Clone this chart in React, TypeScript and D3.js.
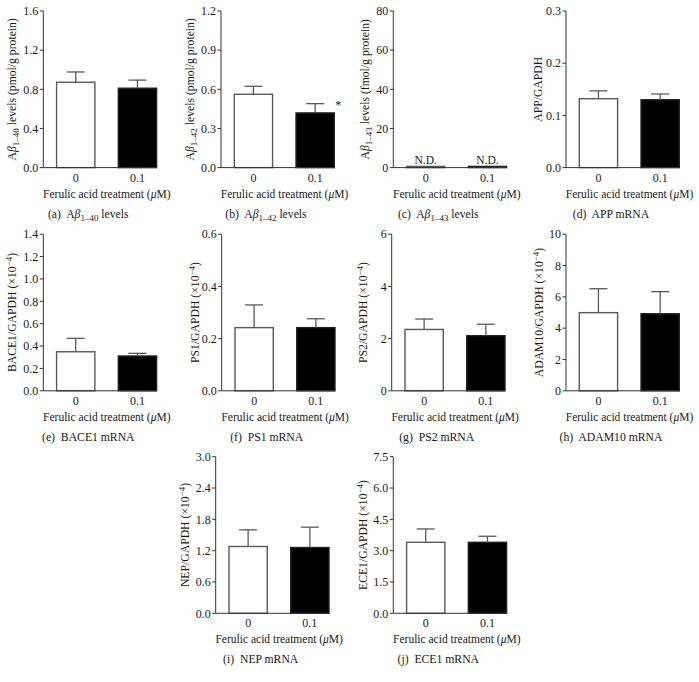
import React from "react";
import * as d3 from "d3";

// ---------- data ----------
const treatmentDoses = ["0", "0.1"];

const abeta40Mean = [0.872, 0.811];
const abeta40Sem = [0.105, 0.083];
const abeta40Ticks = [0, 0.4, 0.8, 1.2, 1.6];

const abeta42Mean = [0.562, 0.419];
const abeta42Sem = [0.061, 0.071];
const abeta42Ticks = [0, 0.3, 0.6, 0.9, 1.2];

const abeta43Mean = [0.6, 0.6]; // not detected
const abeta43Ticks = [0, 20, 40, 60, 80];

const appMean = [0.132, 0.13];
const appSem = [0.015, 0.011];
const appTicks = [0, 0.1, 0.2, 0.3];

const bace1Mean = [0.349, 0.311];
const bace1Sem = [0.12, 0.024];
const bace1Ticks = [0, 0.2, 0.4, 0.6, 0.8, 1.0, 1.2, 1.4];

const ps1Mean = [0.242, 0.242];
const ps1Sem = [0.087, 0.034];
const ps1Ticks = [0, 0.2, 0.4, 0.6];

const ps2Mean = [2.35, 2.11];
const ps2Sem = [0.4, 0.44];
const ps2Ticks = [0, 2, 4, 6];

const adam10Mean = [4.99, 4.92];
const adam10Sem = [1.53, 1.41];
const adam10Ticks = [0, 2, 4, 6, 8, 10];

const nepMean = [1.28, 1.26];
const nepSem = [0.32, 0.39];
const nepTicks = [0, 0.6, 1.2, 1.8, 2.4, 3.0];

const ece1Mean = [3.4, 3.4];
const ece1Sem = [0.64, 0.29];
const ece1Ticks = [0, 1.5, 3.0, 4.5, 6.0, 7.5];

const xAxisTitle = "Ferulic acid treatment (";

type Seg = { t: string; sub?: boolean; sup?: boolean; it?: boolean };

const panels: {
  mean: number[];
  sem: number[] | null;
  ticks: number[];
  fmt: string;
  yTitle: Seg[];
  caption: Seg[];
  nd?: boolean;
  star?: number;
}[] = [
  {
    mean: abeta40Mean, sem: abeta40Sem, ticks: abeta40Ticks, fmt: ".1f",
    yTitle: [{ t: "A" }, { t: "β", it: true }, { t: "1–40", sub: true }, { t: " levels (pmol/g protein)" }],
    caption: [{ t: "(a)  A" }, { t: "β", it: true }, { t: "1–40", sub: true }, { t: " levels" }],
  },
  {
    mean: abeta42Mean, sem: abeta42Sem, ticks: abeta42Ticks, fmt: ".1f",
    yTitle: [{ t: "A" }, { t: "β", it: true }, { t: "1–42", sub: true }, { t: " levels (pmol/g protein)" }],
    caption: [{ t: "(b)  A" }, { t: "β", it: true }, { t: "1–42", sub: true }, { t: " levels" }],
    star: 1,
  },
  {
    mean: abeta43Mean, sem: null, ticks: abeta43Ticks, fmt: "d",
    yTitle: [{ t: "A" }, { t: "β", it: true }, { t: "1–43", sub: true }, { t: " levels (fmol/g protein)" }],
    caption: [{ t: "(c)  A" }, { t: "β", it: true }, { t: "1–43", sub: true }, { t: " levels" }],
    nd: true,
  },
  {
    mean: appMean, sem: appSem, ticks: appTicks, fmt: ".1f",
    yTitle: [{ t: "APP/GAPDH" }],
    caption: [{ t: "(d)  APP mRNA" }],
  },
  {
    mean: bace1Mean, sem: bace1Sem, ticks: bace1Ticks, fmt: ".1f",
    yTitle: [{ t: "BACE1/GAPDH (×10" }, { t: "−4", sup: true }, { t: ")" }],
    caption: [{ t: "(e)  BACE1 mRNA" }],
  },
  {
    mean: ps1Mean, sem: ps1Sem, ticks: ps1Ticks, fmt: ".1f",
    yTitle: [{ t: "PS1/GAPDH (×10" }, { t: "−4", sup: true }, { t: ")" }],
    caption: [{ t: "(f)  PS1 mRNA" }],
  },
  {
    mean: ps2Mean, sem: ps2Sem, ticks: ps2Ticks, fmt: "d",
    yTitle: [{ t: "PS2/GAPDH (×10" }, { t: "−4", sup: true }, { t: ")" }],
    caption: [{ t: "(g)  PS2 mRNA" }],
  },
  {
    mean: adam10Mean, sem: adam10Sem, ticks: adam10Ticks, fmt: "d",
    yTitle: [{ t: "ADAM10/GAPDH (×10" }, { t: "−4", sup: true }, { t: ")" }],
    caption: [{ t: "(h)  ADAM10 mRNA" }],
  },
  {
    mean: nepMean, sem: nepSem, ticks: nepTicks, fmt: ".1f",
    yTitle: [{ t: "NEP/GAPDH (×10" }, { t: "−4", sup: true }, { t: ")" }],
    caption: [{ t: "(i)  NEP mRNA" }],
  },
  {
    mean: ece1Mean, sem: ece1Sem, ticks: ece1Ticks, fmt: ".1f",
    yTitle: [{ t: "ECE1/GAPDH (×10" }, { t: "−4", sup: true }, { t: ")" }],
    caption: [{ t: "(j)  ECE1 mRNA" }],
  },
];

// ---------- layout ----------
const W = 699;
const H = 682;
const PLOT_H = 156.6;
const layout = [
  { x: 43.3, top: 11, titleOff: 27.5 },
  { x: 221, top: 11, titleOff: 27 },
  { x: 393.3, top: 11, titleOff: 24.3 },
  { x: 566, top: 11, titleOff: 23.7 },
  { x: 43.3, top: 234.2, titleOff: 27.5 },
  { x: 221.7, top: 234.2, titleOff: 22.7 },
  { x: 391.7, top: 234.2, titleOff: 24.4 },
  { x: 566, top: 234.2, titleOff: 22.7 },
  { x: 215.7, top: 456.7, titleOff: 26.7 },
  { x: 393.3, top: 456.7, titleOff: 26.6 },
];

const FONT = "'Liberation Serif', 'DejaVu Serif', serif";
const AXIS = "#333";
const EDGE = "#5a5a5a";
const INK = "#1a1a1a";

function Segs({ segs, sub = 8.5 }: { segs: Seg[]; sub?: number }) {
  const out: React.ReactNode[] = [];
  let shift = 0;
  segs.forEach((s, i) => {
    let target = 0;
    if (s.sub) target = 3;
    if (s.sup) target = -4;
    const dy = target - shift;
    shift = target;
    out.push(
      <tspan
        key={i}
        dy={dy !== 0 ? dy : undefined}
        fontSize={s.sub || s.sup ? sub : undefined}
        fontStyle={s.it ? "italic" : undefined}
      >
        {s.t}
      </tspan>
    );
  });
  return <>{out}</>;
}

function Panel({ p, l }: { p: (typeof panels)[number]; l: (typeof layout)[number] }) {
  const y = d3
    .scaleLinear()
    .domain([0, p.ticks[p.ticks.length - 1]])
    .range([l.top + PLOT_H, l.top]);
  const x = d3
    .scaleBand()
    .domain(treatmentDoses)
    .range([l.x + 13.3, l.x + 113.3])
    .paddingInner(0.38)
    .paddingOuter(0);
  const bw = x.bandwidth();
  const base = y(0);
  const fmt = d3.format(p.fmt);
  const xEnd = (x(treatmentDoses[1]) as number) + bw;
  const midY = l.top + PLOT_H / 2;
  return (
    <g>
      {/* bars */}
      {treatmentDoses.map((d, i) => {
        const x0 = x(d) as number;
        const top = y(p.mean[i]);
        return (
          <rect
            key={d}
            x={x0}
            y={top}
            width={bw}
            height={Math.max(base - top, 0.8)}
            fill={i === 0 ? "#fff" : "#000"}
            stroke={i === 0 ? EDGE : "#222"}
            strokeWidth={1.4}
          />
        );
      })}
      {/* error bars */}
      {p.sem &&
        treatmentDoses.map((d, i) => {
          const cx = (x(d) as number) + bw / 2;
          const y0 = y(p.mean[i]);
          const y1 = y(p.mean[i] + (p.sem as number[])[i]);
          return (
            <g key={"e" + d} stroke={EDGE} strokeWidth={1.3} fill="none">
              <line x1={cx} x2={cx} y1={y0} y2={y1} />
              <line x1={cx - 9} x2={cx + 9} y1={y1} y2={y1} />
            </g>
          );
        })}
      {p.star !== undefined && p.sem && (
        <text
          x={(x(treatmentDoses[p.star]) as number) + bw / 2 + 23}
          y={y(p.mean[p.star] + p.sem[p.star]) + 5}
          fontSize={12}
          textAnchor="middle"
          fill={INK}
        >
          *
        </text>
      )}
      {p.nd &&
        treatmentDoses.map((d) => (
          <text
            key={"nd" + d}
            x={(x(d) as number) + bw / 2}
            y={base - 4}
            fontSize={11.5}
            textAnchor="middle"
            fill={INK}
          >
            N.D.
          </text>
        ))}
      {/* axes */}
      <line x1={l.x} x2={l.x} y1={l.top} y2={base} stroke={AXIS} strokeWidth={1} />
      <line x1={l.x} x2={xEnd} y1={base} y2={base} stroke={AXIS} strokeWidth={1} />
      {p.ticks.map((t) => (
        <g key={"t" + t}>
          <line x1={l.x - 3.5} x2={l.x} y1={y(t)} y2={y(t)} stroke={AXIS} strokeWidth={1} />
          <text x={l.x - 5} y={y(t) + 4.2} fontSize={12} textAnchor="end" fill={INK}>
            {fmt(t)}
          </text>
        </g>
      ))}
      {treatmentDoses.map((d) => (
        <text
          key={"x" + d}
          x={(x(d) as number) + bw / 2}
          y={base + 14}
          fontSize={12}
          textAnchor="middle"
          fill={INK}
        >
          {d}
        </text>
      ))}
      <text x={l.x + 63.5} y={base + 30} fontSize={11.5} textAnchor="middle" fill={INK}>
        {xAxisTitle}
        <tspan fontStyle="italic">μ</tspan>M)
      </text>
      <text
        x={l.x + 45}
        y={base + 50}
        fontSize={11.7}
        textAnchor="middle"
        fill={INK}
        style={{ whiteSpace: "pre" }}
      >
        <Segs segs={p.caption} sub={9} />
      </text>
      <text
        transform={`translate(${l.x - l.titleOff},${midY}) rotate(-90)`}
        fontSize={11.7}
        textAnchor="middle"
        fill={INK}
      >
        <Segs segs={p.yTitle} sub={9} />
      </text>
    </g>
  );
}

export default function App() {
  return (
    <svg
      width={W}
      height={H}
      viewBox={`0 0 ${W} ${H}`}
      style={{ position: "absolute", left: 0, top: 0, background: "#fff" }}
      fontFamily={FONT}
    >
      <rect width={W} height={H} fill="#fff" />
      {panels.map((p, i) => (
        <Panel key={i} p={p} l={layout[i]} />
      ))}
    </svg>
  );
}
